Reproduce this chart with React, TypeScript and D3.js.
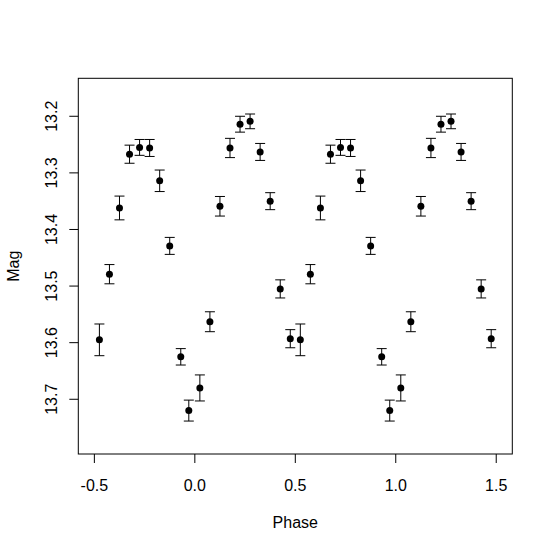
import React from "react";
import * as d3 from "d3";

const phases = [-0.475, -0.425, -0.375, -0.325, -0.275, -0.225, -0.175, -0.125, -0.07, -0.03,
  0.025, 0.075, 0.125, 0.175, 0.225, 0.275, 0.325, 0.375, 0.425, 0.475];
const mags = [13.595, 13.479, 13.362, 13.267, 13.255, 13.256, 13.314, 13.429, 13.625, 13.72,
  13.68, 13.563, 13.359, 13.256, 13.214, 13.209, 13.263, 13.35, 13.505, 13.593];
const errs = [0.028, 0.017, 0.021, 0.016, 0.014, 0.015, 0.019, 0.015, 0.0145, 0.0185,
  0.023, 0.0176, 0.0173, 0.017, 0.014, 0.013, 0.015, 0.015, 0.016, 0.016];
const cycles = [0, 1];
const xTicks = [-0.5, 0, 0.5, 1, 1.5];
const yTicks = [13.2, 13.3, 13.4, 13.5, 13.6, 13.7];
const xLabel = "Phase";
const yLabel = "Mag";

const W = 553, H = 552;
const L = 78.3, R = 512.3, T = 78.3, B = 454;

export default function App() {
  const x = d3.scaleLinear().domain([-0.58, 1.58]).range([L, R]);
  const y = d3.scaleLinear().domain([13.1329, 13.7967]).range([T, B]);
  const font = "Arial, 'Liberation Sans', sans-serif";
  const pts = cycles.flatMap((c) =>
    phases.map((p, i) => ({ p: p + c, m: mags[i], e: errs[i] }))
  );
  return (
    <svg width={W} height={H} style={{ position: "absolute", left: 0, top: 0, background: "#fff" }}
      fontFamily={font}>
      <rect x={0} y={0} width={W} height={H} fill="#fff" />
      <rect x={L} y={T} width={R - L} height={B - T} fill="none" stroke="#000" strokeWidth={1} />
      {xTicks.map((t) => (
        <g key={"x" + t}>
          <line x1={x(t)} x2={x(t)} y1={B} y2={B + 9} stroke="#000" />
          <text x={x(t)} y={491} textAnchor="middle" fontSize={16} fill="#000">
            {d3.format(".1f")(t).replace("−", "-")}
          </text>
        </g>
      ))}
      {yTicks.map((t) => (
        <g key={"y" + t}>
          <line x1={L - 9} x2={L} y1={y(t)} y2={y(t)} stroke="#000" />
          <text transform={`translate(56.5,${y(t)}) rotate(-90)`} textAnchor="middle" fontSize={16} fill="#000">
            {d3.format(".1f")(t)}
          </text>
        </g>
      ))}
      <text x={(L + R) / 2} y={528} textAnchor="middle" fontSize={16} fill="#000">{xLabel}</text>
      <text transform={`translate(19,${(T + B) / 2}) rotate(-90)`} textAnchor="middle" fontSize={16} fill="#000">{yLabel}</text>
      {pts.map((d, i) => (
        <g key={i} stroke="#000" strokeWidth={1}>
          <line x1={x(d.p)} x2={x(d.p)} y1={y(d.m - d.e)} y2={y(d.m + d.e)} />
          <line x1={x(d.p) - 5} x2={x(d.p) + 5} y1={y(d.m - d.e)} y2={y(d.m - d.e)} />
          <line x1={x(d.p) - 5} x2={x(d.p) + 5} y1={y(d.m + d.e)} y2={y(d.m + d.e)} />
          <circle cx={x(d.p)} cy={y(d.m)} r={3.5} fill="#000" stroke="none" />
        </g>
      ))}
    </svg>
  );
}
